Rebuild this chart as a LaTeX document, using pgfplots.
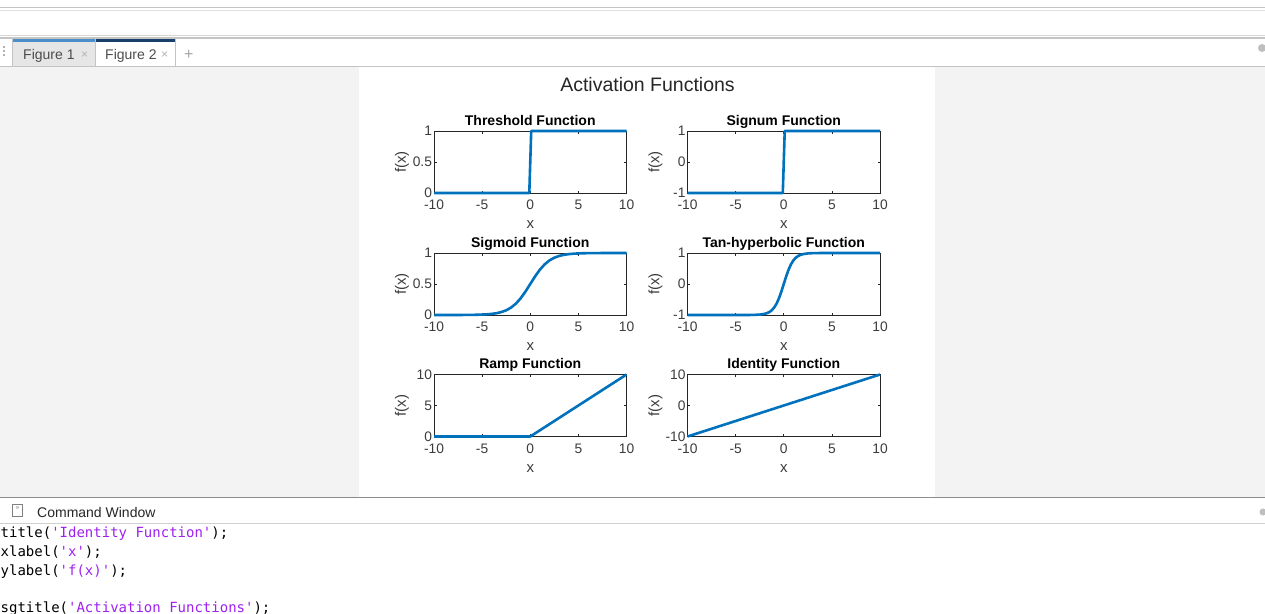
\documentclass[border=0pt]{standalone}
\usepackage{fontspec}
\setmainfont{Liberation Sans}
\setmonofont{DejaVu Sans Mono}
\usepackage{pgfplots}
\pgfplotsset{compat=1.18}
\definecolor{mblue}{HTML}{0072BD}
\definecolor{axgray}{HTML}{262626}
\definecolor{bggray}{HTML}{F3F3F3}
\definecolor{sepgray}{HTML}{C4C4C4}
\definecolor{tabgray}{HTML}{E6E6E6}
\definecolor{tabblue}{HTML}{4A8FCC}
\definecolor{tabnavy}{HTML}{17406A}
\definecolor{strpurple}{HTML}{A020F0}
\pgfplotsset{
  mline/.style={draw=mblue, solid, line width=2.6pt, line join=round, mark=none},
  mat/.style={
    scale only axis, width=192.5pt, height=62pt,
    anchor=north west,
    xmin=-10, xmax=10, xtick={-10,-5,0,5,10},
    tick align=inside, tickpos=both,
    major tick length=2.5pt,
    axis line style={draw=axgray, line width=0.8pt},
    every tick/.style={draw=axgray, line width=0.6pt},
    /pgf/number format/assume math mode=true,
    tick label style={font=\fontsize{13.8}{13.8}\selectfont, text=axgray!90},
    xticklabel style={yshift=-3.5pt},
    yticklabel style={xshift=1.5pt},
    xlabel={x}, ylabel={f(x)},
    xlabel style={at={(axis description cs:0.5,-0.575)}, anchor=base, font=\fontsize{15}{15}\selectfont, text=axgray!90, inner sep=0pt},
    ylabel style={at={(axis description cs:-0.166,0.5)}, anchor=center, font=\fontsize{15}{15}\selectfont, text=axgray!90, inner sep=0pt},
    title style={at={(axis description cs:0.5,1)}, anchor=base, yshift=0pt, font=\bfseries\fontsize{14}{14}\selectfont, inner sep=0pt},
    clip=false,
  }
}
\begin{document}
\begin{tikzpicture}
\useasboundingbox (0,0) rectangle (1265pt,-613pt);
\clip (0,0) rectangle (1265pt,-613pt);
\begin{scope}[x=1pt,y=-1pt]
  \fill[white] (0,0) rectangle (1265,613);
  % top separator lines
  \draw[sepgray, line width=1pt] (0,7.5) -- (1265,7.5);
  \draw[sepgray!50, line width=0.8pt] (0,10) -- (1265,10);
  \draw[sepgray!70, line width=0.8pt] (0,35) -- (1265,35);
  \draw[sepgray, line width=1.2pt] (0,38) -- (1265,38);
  % tabs
  \fill[tabgray] (12,39) rectangle (95,66);
  \fill[tabblue] (12,38.5) rectangle (95,41.5);
  \fill[white] (96,39) rectangle (175,66);
  \fill[tabnavy] (96,38.5) rectangle (175,41.5);
  \draw[sepgray, line width=0.8pt] (95.5,39) -- (95.5,66);
  \draw[sepgray, line width=0.8pt] (175.5,39) -- (175.5,66);
  \draw[sepgray, line width=0.8pt] (12,39) -- (12,66);
  \node[anchor=base west, font=\fontsize{14}{14}\selectfont, text=black!70, inner sep=0pt] at (23,59) {Figure 1};
  \node[anchor=base west, font=\fontsize{12}{12}\selectfont, text=black!30, inner sep=0pt] at (81,58.5) {×};
  \node[anchor=base west, font=\fontsize{14}{14}\selectfont, text=black!70, inner sep=0pt] at (105,59) {Figure 2};
  \node[anchor=base west, font=\fontsize{12}{12}\selectfont, text=black!30, inner sep=0pt] at (161,58.5) {×};
  \node[anchor=base west, font=\fontsize{16}{16}\selectfont, text=black!35, inner sep=0pt] at (184,59) {+};
  \fill[black!30] (3,46) rectangle (4.5,47.5);
  \fill[black!30] (3,50) rectangle (4.5,51.5);
  \fill[black!30] (3,54) rectangle (4.5,55.5);
  \fill[black!25] (1262,48) circle (4);
  % figure area
  \fill[bggray] (0,66) rectangle (1265,497);
  \draw[sepgray, line width=0.8pt] (0,66) -- (1265,66);
  \fill[white] (359,67) rectangle (935,496.5);
  % command window
  \draw[black!45, line width=1pt] (0,497) -- (1265,497);
  \draw[sepgray!80, line width=1pt] (0,523.5) -- (1265,523.5);
  \draw[black!50, line width=0.6pt] (12.5,504.5) rectangle (22.5,516);
  \node[font=\fontsize{6}{6}\selectfont, text=black!60, inner sep=0pt] at (17.5,508.5) {»};
  \node[anchor=base west, font=\fontsize{14}{14}\selectfont, text=black!85, inner sep=0pt] at (37,517) {Command Window};
  \fill[black!25] (1263,512) circle (3.5);
  \begin{scope}[every node/.style={anchor=base west, font=\ttfamily\fontsize{14}{14}\selectfont, inner sep=0pt}]
    \node at (0.5,537) {title(\textcolor{strpurple}{'Identity Function'});};
    \node at (0.5,556) {xlabel(\textcolor{strpurple}{'x'});};
    \node at (0.5,575) {ylabel(\textcolor{strpurple}{'f(x)'});};
    \node at (0.5,612) {sgtitle(\textcolor{strpurple}{'Activation Functions'});};
  \end{scope}
  % super title
  \node[anchor=base, font=\fontsize{19.5}{19.5}\selectfont, text=axgray, inner sep=0pt] at (647.5,91) {Activation Functions};
\end{scope}

% Row 1
\begin{axis}[mat, at={(434pt,-131pt)}, title={Threshold Function},
  ymin=0, ymax=1, ytick={0,0.5,1}]
  \addplot[mline] coordinates {(-10,0) (-0.1,0) (0.1,1) (10,1)};
\end{axis}
\begin{axis}[mat, at={(687.5pt,-131pt)}, title={Signum Function},
  ymin=-1, ymax=1, ytick={-1,0,1}]
  \addplot[mline] coordinates {(-10,-1) (-0.1,-1) (0.1,1) (10,1)};
\end{axis}

% Row 2
\begin{axis}[mat, at={(434pt,-253pt)}, title={Sigmoid Function},
  ymin=0, ymax=1, ytick={0,0.5,1}]
  \addplot[mline] coordinates {(-10,0.0000) (-8,0.0003) (-7,0.0009) (-6,0.0025) (-5.5,0.0041) (-5,0.0067)
    (-4.5,0.0110) (-4,0.0180) (-3.5,0.0293) (-3,0.0474) (-2.5,0.0759) (-2,0.1192) (-1.5,0.1824)
    (-1,0.2689) (-0.5,0.3775) (0,0.5) (0.5,0.6225) (1,0.7311) (1.5,0.8176) (2,0.8808) (2.5,0.9241)
    (3,0.9526) (3.5,0.9707) (4,0.9820) (4.5,0.9890) (5,0.9933) (5.5,0.9959) (6,0.9975) (7,0.9991)
    (8,0.9997) (10,1.0000)};
\end{axis}
\begin{axis}[mat, at={(687.5pt,-253pt)}, title={Tan-hyperbolic Function},
  ymin=-1, ymax=1, ytick={-1,0,1}]
  \addplot[mline] coordinates {(-10,-1) (-5,-0.9999) (-4,-0.9993) (-3.5,-0.9982) (-3,-0.9951) (-2.5,-0.9866)
    (-2,-0.9640) (-1.75,-0.9414) (-1.5,-0.9051) (-1.25,-0.8483) (-1,-0.7616) (-0.75,-0.6351)
    (-0.5,-0.4621) (-0.25,-0.2449) (0,0) (0.25,0.2449) (0.5,0.4621) (0.75,0.6351) (1,0.7616)
    (1.25,0.8483) (1.5,0.9051) (1.75,0.9414) (2,0.9640) (2.5,0.9866) (3,0.9951) (3.5,0.9982)
    (4,0.9993) (5,0.9999) (10,1)};
\end{axis}

% Row 3
\begin{axis}[mat, at={(434pt,-374.5pt)}, title={Ramp Function},
  ymin=0, ymax=10, ytick={0,5,10}]
  \addplot[mline] coordinates {(-10,0) (0,0) (10,10)};
\end{axis}
\begin{axis}[mat, at={(687.5pt,-374.5pt)}, title={Identity Function},
  ymin=-10, ymax=10, ytick={-10,0,10}]
  \addplot[mline] coordinates {(-10,-10) (10,10)};
\end{axis}
\end{tikzpicture}
\end{document}
